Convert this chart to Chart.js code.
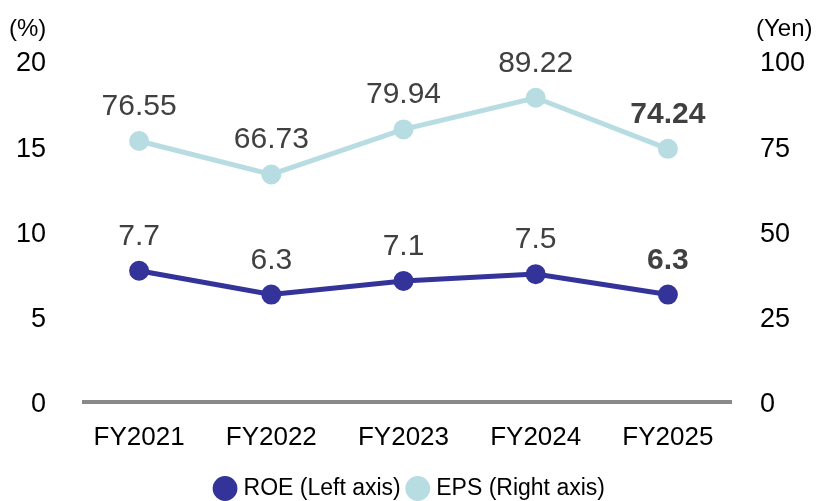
<!DOCTYPE html>
<html>
<head>
<meta charset="utf-8">
<script src="https://cdn.jsdelivr.net/npm/chart.js@4/dist/chart.umd.min.js"></script>
<style>
  html, body { margin: 0; padding: 0; background: #fff; }
  #wrap { width: 823px; height: 501px; position: relative; }
</style>
</head>
<body>
<div id="wrap"><canvas id="c"></canvas></div>
<script>
// Fiscal years and the two indicators
const categories = ['FY2021', 'FY2022', 'FY2023', 'FY2024', 'FY2025'];
const roeValues = [7.7, 6.3, 7.1, 7.5, 6.3];           // ROE, %
const epsValues = [76.55, 66.73, 79.94, 89.22, 74.24]; // EPS, yen
const roeTicks = [0, 5, 10, 15, 20];
const epsTicks = [0, 25, 50, 75, 100];

const FONT = "'Liberation Sans', Arial, sans-serif";
const ROE_COLOR = '#333399';
const EPS_COLOR = '#b7dde2';
const LABEL_COLOR = '#404040';

// Gray zero line under the plot
const zeroLine = {
  id: 'zeroLine',
  beforeDatasetsDraw(chart) {
    const { ctx, chartArea } = chart;
    const y = chart.scales.yL.getPixelForValue(0);
    ctx.save();
    ctx.strokeStyle = '#898989';
    ctx.lineWidth = 4;
    ctx.beginPath();
    ctx.moveTo(chartArea.left + 9, y);
    ctx.lineTo(chartArea.right - 2, y);
    ctx.stroke();
    ctx.restore();
  }
};

// Value labels above each point; the latest year is shown in bold
const valueLabels = {
  id: 'valueLabels',
  afterDatasetsDraw(chart) {
    const ctx = chart.ctx;
    ctx.save();
    ctx.fillStyle = LABEL_COLOR;
    ctx.textAlign = 'center';
    ctx.textBaseline = 'alphabetic';
    chart.data.datasets.forEach((ds, di) => {
      const meta = chart.getDatasetMeta(di);
      meta.data.forEach((pt, i) => {
        const last = i === ds.data.length - 1;
        ctx.font = (last ? 'bold ' : '') + '30px ' + FONT;
        const txt = di === 0 ? ds.data[i].toFixed(1) : ds.data[i].toFixed(2);
        ctx.fillText(txt, pt.x, pt.y - 26);
      });
    });
    ctx.restore();
  }
};

// Unit captions above both value axes
const unitCaptions = {
  id: 'unitCaptions',
  afterDraw(chart) {
    const ctx = chart.ctx;
    ctx.save();
    ctx.fillStyle = '#000';
    ctx.font = '24px ' + FONT;
    ctx.textBaseline = 'middle';
    ctx.textAlign = 'left';
    ctx.fillText('(%)', 9, 29);
    ctx.fillText('(Yen)', 756, 29);
    ctx.restore();
  }
};

new Chart(document.getElementById('c'), {
  type: 'line',
  data: {
    labels: categories,
    datasets: [
      {
        label: 'ROE (Left axis)',
        data: roeValues,
        yAxisID: 'yL',
        borderColor: ROE_COLOR,
        backgroundColor: ROE_COLOR,
        pointBackgroundColor: ROE_COLOR,
        pointBorderColor: ROE_COLOR,
        borderWidth: 5,
        pointRadius: 7.5,
        tension: 0,
        clip: false
      },
      {
        label: 'EPS (Right axis)',
        data: epsValues,
        yAxisID: 'yR',
        borderColor: EPS_COLOR,
        backgroundColor: EPS_COLOR,
        pointBackgroundColor: EPS_COLOR,
        pointBorderColor: EPS_COLOR,
        borderWidth: 5,
        pointRadius: 7.5,
        tension: 0,
        clip: false
      }
    ]
  },
  options: {
    responsive: true,
    maintainAspectRatio: false,
    animation: false,
    layout: { padding: { top: 61, bottom: -9, left: 0, right: 0 } },
    plugins: {
      tooltip: { enabled: false },
      legend: {
        position: 'bottom',
        labels: {
          usePointStyle: true,
          pointStyle: 'circle',
          boxHeight: 14,
          boxWidth: 14,
          font: { family: FONT, size: 23 },
          color: '#000',
          padding: 10
        }
      }
    },
    scales: {
      x: {
        offset: true,
        afterFit(s) { s.height = 65; },
        grid: { display: false, drawTicks: false },
        border: { display: false },
        ticks: { font: { family: FONT, size: 26 }, color: '#000', padding: 20 }
      },
      yL: {
        position: 'left',
        min: 0, max: 20,
        afterBuildTicks(s) { s.ticks = roeTicks.map(v => ({ value: v })); },
        afterFit(s) { s.width = 73; },
        grid: { display: false, drawTicks: false },
        border: { display: false },
        ticks: { font: { family: FONT, size: 27 }, color: '#000', padding: 27, labelOffset: 3 }
      },
      yR: {
        position: 'right',
        min: 0, max: 100,
        afterBuildTicks(s) { s.ticks = epsTicks.map(v => ({ value: v })); },
        afterFit(s) { s.width = 89; },
        grid: { display: false, drawTicks: false },
        border: { display: false },
        ticks: { font: { family: FONT, size: 27 }, color: '#000', padding: 26, labelOffset: 3 }
      }
    }
  },
  plugins: [zeroLine, valueLabels, unitCaptions]
});
</script>
</body>
</html>
